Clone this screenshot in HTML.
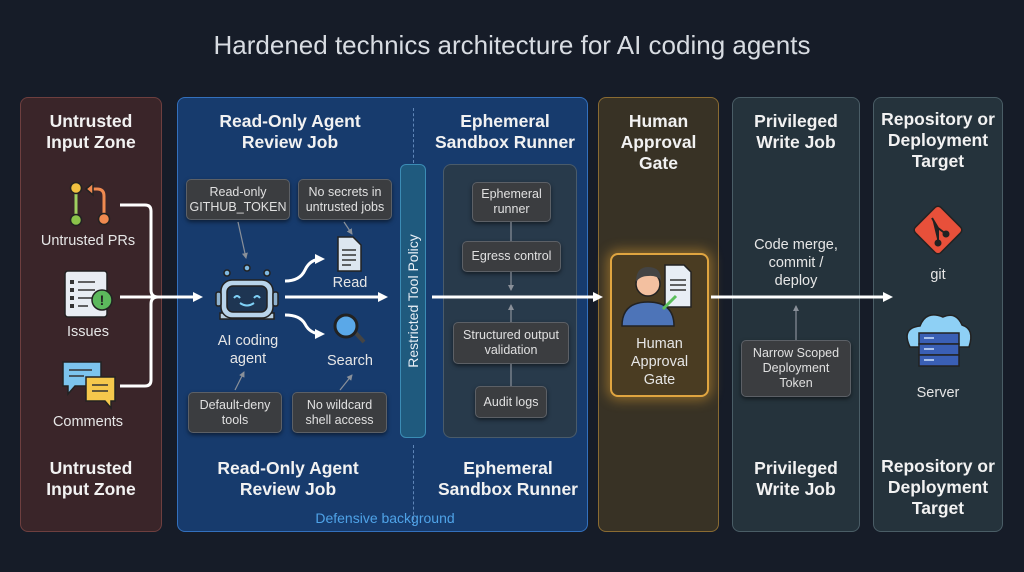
<!DOCTYPE html>
<html><head><meta charset="utf-8"><style>
*{margin:0;padding:0;box-sizing:border-box}
body{width:1024px;height:572px;background:#161c28;font-family:"Liberation Sans",sans-serif;position:relative;overflow:hidden;color:#fff}
.a{position:absolute}
.zone{position:absolute;border-radius:8px;border:1.5px solid}
.h{position:absolute;font-weight:bold;font-size:17.5px;line-height:21px;text-align:center;color:#f2f2f2}
.t{position:absolute;font-size:14.5px;text-align:center;color:#e6e6e6;line-height:18px}
.b{position:absolute;background:#3b3d40;border:1px solid #5c6066;border-radius:5px;font-size:12.5px;line-height:15px;color:#e0e0e0;text-align:center;display:flex;align-items:center;justify-content:center;box-shadow:0 2px 4px rgba(0,0,0,.5)}
</style></head><body>
<div class="a" style="left:0;top:30px;width:1024px;text-align:center;font-size:26px;color:#d8dce2">Hardened technics architecture for AI coding agents</div>

<div class="zone" style="left:20px;top:97px;width:142px;height:435px;background:#3a2529;border-color:#6e3f3f"></div>
<div class="zone" style="left:177px;top:97px;width:411px;height:435px;background:#173b6d;border-color:#3370bd"></div>
<div class="zone" style="left:598px;top:97px;width:121px;height:435px;background:#383225;border-color:#8a6b32"></div>
<div class="zone" style="left:732px;top:97px;width:128px;height:435px;background:#25333c;border-color:#4a5d66"></div>
<div class="zone" style="left:873px;top:97px;width:130px;height:435px;background:#25333c;border-color:#4a5d66"></div>

<div class="a" style="left:413px;top:108px;height:55px;border-left:1.5px dashed #5f86b8"></div>
<div class="a" style="left:413px;top:445px;height:80px;border-left:1.5px dashed #5f86b8"></div>

<div class="a" style="left:400px;top:164px;width:26px;height:274px;background:#1f5a7e;border:1.5px solid #3b8cb5;border-radius:6px"></div>
<div class="a" style="left:413px;top:301px;transform:translate(-50%,-50%) rotate(-90deg);font-size:14px;color:#e8eef5;white-space:nowrap">Restricted Tool Policy</div>
<div class="a" style="left:443px;top:164px;width:134px;height:274px;background:#283a4b;border:1.5px solid #4a5b6a;border-radius:8px"></div>

<div class="a" style="left:610px;top:253px;width:99px;height:144px;background:#4a3c22;border:2px solid #e0a540;border-radius:8px;box-shadow:0 0 12px 3px rgba(240,170,50,.45)"></div>

<div class="h" style="left:20px;top:111px;width:142px">Untrusted<br>Input Zone</div>
<div class="h" style="left:20px;top:458px;width:142px">Untrusted<br>Input Zone</div>
<div class="h" style="left:190px;top:111px;width:200px">Read-Only Agent<br>Review Job</div>
<div class="h" style="left:188px;top:458px;width:200px">Read-Only Agent<br>Review Job</div>
<div class="h" style="left:420px;top:111px;width:170px">Ephemeral<br>Sandbox Runner</div>
<div class="h" style="left:423px;top:458px;width:170px">Ephemeral<br>Sandbox Runner</div>
<div class="h" style="left:598px;top:111px;width:121px">Human<br>Approval<br>Gate</div>
<div class="h" style="left:732px;top:111px;width:128px">Privileged<br>Write Job</div>
<div class="h" style="left:732px;top:458px;width:128px">Privileged<br>Write Job</div>
<div class="h" style="left:873px;top:109px;width:130px">Repository or<br>Deployment<br>Target</div>
<div class="h" style="left:873px;top:456px;width:130px">Repository or<br>Deployment<br>Target</div>
<div class="a" style="left:250px;top:510px;width:270px;text-align:center;font-size:14px;color:#4fa3e8">Defensive background</div>

<div class="t" style="left:20px;top:232px;width:136px">Untrusted PRs</div>
<div class="t" style="left:20px;top:323px;width:136px">Issues</div>
<div class="t" style="left:20px;top:413px;width:136px">Comments</div>
<div class="t" style="left:200px;top:332px;width:96px">AI coding<br>agent</div>
<div class="t" style="left:320px;top:274px;width:60px">Read</div>
<div class="t" style="left:315px;top:352px;width:70px">Search</div>
<div class="t" style="left:610px;top:335px;width:99px">Human<br>Approval<br>Gate</div>
<div class="t" style="left:740px;top:236px;width:112px">Code merge,<br>commit /<br>deploy</div>
<div class="t" style="left:900px;top:266px;width:76px">git</div>
<div class="t" style="left:900px;top:384px;width:76px">Server</div>

<div class="b" style="left:186px;top:179px;width:104px;height:41px">Read-only<br>GITHUB_TOKEN</div>
<div class="b" style="left:298px;top:179px;width:94px;height:41px">No secrets in<br>untrusted jobs</div>
<div class="b" style="left:188px;top:392px;width:94px;height:41px">Default-deny<br>tools</div>
<div class="b" style="left:292px;top:392px;width:95px;height:41px">No wildcard<br>shell access</div>
<div class="b" style="left:472px;top:182px;width:79px;height:40px">Ephemeral<br>runner</div>
<div class="b" style="left:462px;top:241px;width:99px;height:31px">Egress control</div>
<div class="b" style="left:453px;top:322px;width:116px;height:42px">Structured output<br>validation</div>
<div class="b" style="left:475px;top:386px;width:72px;height:32px">Audit logs</div>
<div class="b" style="left:741px;top:340px;width:110px;height:57px">Narrow Scoped<br>Deployment<br>Token</div>

<svg class="a" style="left:0;top:0" width="1024" height="572">
<defs><marker id="m" markerWidth="10" markerHeight="10" refX="7" refY="5" orient="auto" markerUnits="userSpaceOnUse"><path d="M0,0L10,5L0,10z" fill="#fff"/></marker>
<marker id="s" markerWidth="6" markerHeight="6" refX="5" refY="3" orient="auto" markerUnits="userSpaceOnUse"><path d="M0,0L6,3L0,6z" fill="#8a9099"/></marker></defs>
<g stroke="#fff" stroke-width="3" fill="none">
<path d="M120,205H145Q151,205 151,211V290Q151,297 158,297"/>
<path d="M120,297H200" marker-end="url(#m)"/>
<path d="M120,386H145Q151,386 151,380V304Q151,297 158,297"/>
<path d="M285,297H385" marker-end="url(#m)"/>
<path d="M285,281Q300,281 305,270Q310,259 322,259" marker-end="url(#m)"/>
<path d="M285,315Q300,315 305,324Q310,334 322,334" marker-end="url(#m)"/>
<path d="M432,297H600" marker-end="url(#m)"/>
<path d="M711,297H890" marker-end="url(#m)"/>
</g>
<g stroke="#8a9099" stroke-width="1.2" fill="none">
<path d="M238,222L246,258" marker-end="url(#s)"/>
<path d="M344,222L352,234" marker-end="url(#s)"/>
<path d="M235,390L244,372" marker-end="url(#s)"/>
<path d="M340,390L352,375" marker-end="url(#s)"/>
<path d="M511,222V241"/><path d="M511,272V290" marker-end="url(#s)"/>
<path d="M511,322V305" marker-end="url(#s)"/><path d="M511,364V386"/>
<path d="M796,340V306" marker-end="url(#s)"/>
</g>
<g stroke="#222" stroke-width="1.5">
<path d="M76,190V217" stroke="#9fd060" stroke-width="3"/>
<circle cx="76" cy="188" r="5.5" fill="#f0c040"/><circle cx="76" cy="220" r="5.5" fill="#8bc34a"/>
<path d="M104,215V196Q104,189 97,189H90" stroke="#f08a50" stroke-width="3" fill="none"/>
<path d="M86,189L93,183V195z" fill="#f08a50"/>
<circle cx="104" cy="219" r="5.5" fill="#f08a50"/>
</g>
<rect x="65" y="271" width="42" height="46" rx="3" fill="#e8edf3" stroke="#222" stroke-width="1.5"/>
<g fill="#333"><rect x="70" y="280" width="4" height="4"/><rect x="70" y="288" width="4" height="4"/><rect x="70" y="296" width="4" height="4"/><rect x="70" y="304" width="4" height="4"/></g>
<g stroke="#333" stroke-width="1.5"><path d="M78,282H95M78,290H95M78,298H92M78,306H88"/></g>
<circle cx="102" cy="300" r="10" fill="#5cb85c" stroke="#222" stroke-width="1.5"/>
<text x="102" y="305" font-size="14" font-weight="bold" text-anchor="middle" fill="#222" font-family="Liberation Sans">!</text>
<path d="M63,362h38v24h-26l-7,8v-8h-5z" fill="#7cc4ee" stroke="#222" stroke-width="1.5"/>
<path d="M86,377h29v24h-4v7l-6,-7h-19z" fill="#f5c84c" stroke="#222" stroke-width="1.5"/>
<g stroke="#333" stroke-width="1.5"><path d="M69,370H92M69,376H84M92,385H108M92,391H108"/></g>
<g stroke="#222" stroke-width="1.5">
<circle cx="227" cy="273" r="3" fill="#7fb8e0"/><circle cx="247" cy="268" r="3" fill="#7fb8e0"/><circle cx="267" cy="273" r="3" fill="#7fb8e0"/>
<rect x="220" y="313" width="54" height="6" fill="#b9cfe0"/>
<rect x="221" y="280" width="52" height="38" rx="11" fill="#b9d4ea"/>
<rect x="227" y="286" width="40" height="26" rx="6" fill="#1e3552"/>
<rect x="216" y="292" width="5" height="14" rx="2" fill="#8fb2cf"/><rect x="273" y="292" width="5" height="14" rx="2" fill="#8fb2cf"/>
</g>
<g stroke="#7fd0f5" stroke-width="2" fill="none"><path d="M234,298q3,-4 6,0M254,298q3,-4 6,0M240,303q7,5 14,0"/></g>
<path d="M338,237h15l8,8v26h-23z" fill="#dce6f0" stroke="#222" stroke-width="1.5"/>
<g stroke="#333" stroke-width="1.5"><path d="M342,250H356M342,255H356M342,260H356M342,265H351"/></g>
<path d="M353,330L364,342" stroke="#444" stroke-width="4"/>
<circle cx="346" cy="326" r="11" fill="#5aa8e8" stroke="#222" stroke-width="3"/>
<path d="M622,326q0,-24 26,-24q26,0 26,24z" fill="#4d74b8" stroke="#222" stroke-width="1.5"/>
<circle cx="648" cy="284" r="12" fill="#f3c0a0" stroke="#222" stroke-width="1.5"/>
<path d="M636,282q0,-15 12,-15q13,0 13,13q-5,-5 -13,-4q-8,0 -12,6z" fill="#444"/>
<path d="M665,265h19l7,7v35h-26z" fill="#e8eef5" stroke="#222" stroke-width="1.5"/>
<g stroke="#333" stroke-width="1.5"><path d="M670,280H686M670,285H686M670,290H686"/></g>
<path d="M663,309L676,296" stroke="#5cbf5c" stroke-width="3"/>
<rect x="920" y="212" width="36" height="36" rx="4" transform="rotate(45 938 230)" fill="#e8503a" stroke="#222" stroke-width="1.5"/>
<g stroke="#222" stroke-width="2" fill="#222"><path d="M932,218L938,228V243M938,228L946,234"/><circle cx="938" cy="243" r="2.5"/><circle cx="946" cy="234" r="2.5"/></g>
<path d="M910,347q-9,-19 10,-21q6,-16 23,-9q13,-6 19,8q13,4 7,22z" fill="#8ed0f5" stroke="#222" stroke-width="1.5"/>
<g fill="#3a5fb5" stroke="#222" stroke-width="1.5"><rect x="919" y="333" width="40" height="11"/><rect x="919" y="344" width="40" height="11"/><rect x="919" y="355" width="40" height="11"/></g>
<g stroke="#cfe3ff" stroke-width="1.5"><path d="M924,338H934M924,349H934M924,360H934"/></g>
</svg>
</body></html>
